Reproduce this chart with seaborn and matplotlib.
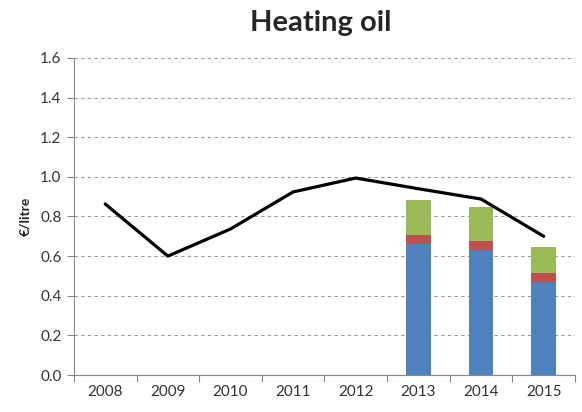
import numpy as np
import pandas as pd
import matplotlib
matplotlib.use("Agg")
import matplotlib.pyplot as plt
import seaborn as sns

years = ["2008", "2009", "2010", "2011", "2012", "2013", "2014", "2015"]
price_line = [0.863, 0.600, 0.737, 0.924, 0.994, 0.940, 0.888, 0.700]

bar_years = ["2013", "2014", "2015"]
blue_part = [0.661, 0.629, 0.471]
red_part = [0.046, 0.046, 0.046]
green_part = [0.176, 0.171, 0.128]

sns.set_theme(style="white")
plt.rcParams['font.family'] = ['Lato', 'DejaVu Sans']

fig = plt.figure(figsize=(5.82, 4.12), dpi=100)
ax = fig.add_axes([0.127, 0.0898, 0.861, 0.7695])

df = pd.DataFrame({"year": bar_years,
                   "blue": blue_part,
                   "red": red_part,
                   "green": green_part})
df["c_red"] = df["blue"] + df["red"]
df["c_green"] = df["c_red"] + df["green"]

w = 0.39
sns.barplot(data=df, x="year", y="c_green", order=years, color="#9BBB59",
            saturation=1, width=w, ax=ax, zorder=3, linewidth=0)
sns.barplot(data=df, x="year", y="c_red", order=years, color="#C0504D",
            saturation=1, width=w, ax=ax, zorder=3, linewidth=0)
sns.barplot(data=df, x="year", y="blue", order=years, color="#4F81BD",
            saturation=1, width=w, ax=ax, zorder=3, linewidth=0)

ldf = pd.DataFrame({"pos": np.arange(len(years)), "price": price_line})
sns.lineplot(data=ldf, x="pos", y="price", color="black", linewidth=2.3,
             ax=ax, zorder=4)

ax.set_xlim(-0.5, 7.5)
ax.set_ylim(0, 1.6)
ax.set_yticks(np.arange(0, 1.61, 0.2))
ax.set_yticklabels([f"{v:.1f}" for v in np.arange(0, 1.61, 0.2)], fontsize=11, color="#333333")
ax.set_xticks(np.arange(len(years)))
ax.set_xticklabels(years, fontsize=11, color="#333333")
ax.set_xticks(np.arange(-0.5, 8, 1), minor=True)
ax.tick_params(axis="x", which="major", length=0, pad=7)
ax.tick_params(axis="x", which="minor", length=5, color="#888888", width=0.8, direction="out", bottom=True)
ax.tick_params(axis="y", length=5, color="#888888", width=0.8, direction="out", left=True, pad=4)

ax.yaxis.grid(True, linestyle=(0, (3, 3)), color="#999999", linewidth=0.8, zorder=0)
ax.xaxis.grid(False)
ax.set_axisbelow(True)
for s in ["top", "right"]:
    ax.spines[s].set_visible(False)
for s in ["left", "bottom"]:
    ax.spines[s].set_color("#888888")
    ax.spines[s].set_linewidth(0.8)

ax.set_xlabel("")
ax.set_ylabel("€/litre", fontsize=10, fontweight="bold", labelpad=6)
fig.suptitle("Heating oil", fontsize=21, fontweight="bold", x=0.551, y=0.975)

fig.savefig("out.png", dpi=100)
